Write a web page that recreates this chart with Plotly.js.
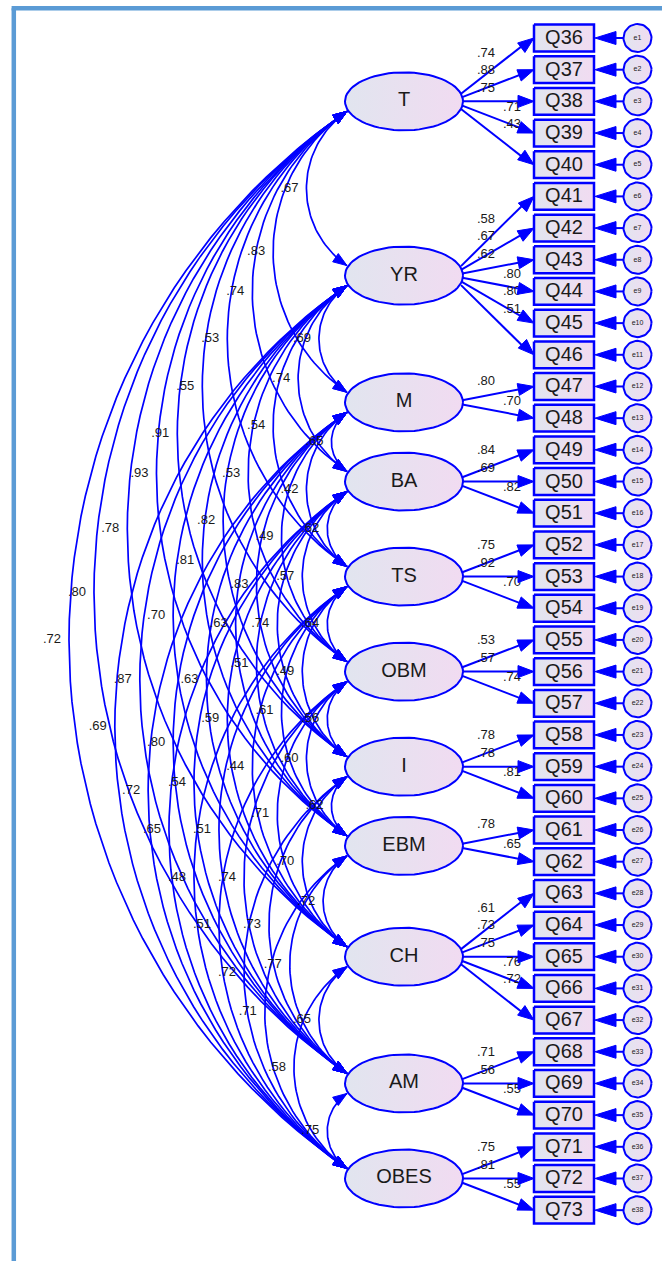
<!DOCTYPE html>
<html><head><meta charset="utf-8">
<script src="https://cdn.plot.ly/plotly-3.0.1.min.js"></script>
<style>html,body{margin:0;padding:0;background:#fff;overflow:hidden}</style>
</head><body><div id="chart" style="width:662px;height:1261px"></div>
<script>
// ---------------- DATA ----------------
const factors = ['T','YR','M','BA','TS','OBM','I','EBM','CH','AM','OBES'];
const itemCounts = [5,6,2,3,3,3,3,2,5,3,3];
const firstItemNumber = 36;
// standardized loadings per factor
const loadT    = ['.74','.88','.75','.71','.43'];
const loadYR   = ['.58','.67','.62','.80','.80','.51'];
const loadM    = ['.80','.70'];
const loadBA   = ['.84','.69','.82'];
const loadTS   = ['.75','.92','.70'];
const loadOBM  = ['.53','.57','.74'];
const loadI    = ['.78','.78','.81'];
const loadEBM  = ['.78','.65'];
const loadCH   = ['.61','.73','.75','.76','.72'];
const loadAM   = ['.71','.56','.55'];
const loadOBES = ['.75','.81','.55'];
// correlations of each factor with the factors listed below it
const corrT   = ['.67','.83','.74','.53','.55','.91','.93','.78','.80','.72'];
const corrYR  = ['.69','.74','.54','.53','.82','.81','.70','.87','.69'];
const corrM   = ['.65','.42','.49','.83','.63','.63','.80','.72'];
const corrBA  = ['.62','.57','.74','.51','.59','.54','.65'];
const corrTS  = ['.64','.49','.61','.44','.51','.48'];
const corrOBM = ['.56','.60','.71','.74','.51'];
const corrI   = ['.62','.70','.73','.72'];
const corrEBM = ['.72','.77','.71'];
const corrCH  = ['.65','.58'];
const corrAM  = ['.75'];

const loadings = [loadT,loadYR,loadM,loadBA,loadTS,loadOBM,loadI,loadEBM,loadCH,loadAM,loadOBES];
const corrs = [corrT,corrYR,corrM,corrBA,corrTS,corrOBM,corrI,corrEBM,corrCH,corrAM];

// ---------------- GEOMETRY ----------------
const Y0 = 38, STEP = 31.68;
const FX = 404, RX = 59, RY = 29;
const BX0 = 534, BX1 = 594, BH = 13.4;
const CX = 637.5, CR = 14;
const ATT_X = 347, ATT_DY = 10, SAG = 0.263;
const BLUE = '#0000ff', TXT = '#1a1a1a';
const FONT = 'Arial, "Liberation Sans", sans-serif';
const grad = {type:'horizontal', colorscale:[[0,'#e1e5ef'],[1,'#f1dbf1']]};

const items = []; const fy = [];
let k = 0;
factors.forEach((f,i)=>{
  const ys=[];
  for(let j=0;j<itemCounts[i];j++){
    const y = Y0 + k*STEP;
    items.push({name:'Q'+(firstItemNumber+k), y, f:i, j, err:'e'+(k+1)});
    ys.push(y); k++;
  }
  fy.push(ys.reduce((a,b)=>a+b,0)/ys.length);
});

function tri(arr, tx, ty, dx, dy, L, w){
  const n = Math.hypot(dx,dy); dx/=n; dy/=n;
  const bx = tx - dx*L, by = ty - dy*L;
  arr.x.push(tx, bx - dy*w, bx + dy*w, tx, null);
  arr.y.push(ty, by + dx*w, by - dx*w, ty, null);
}

const data = [];
// frame
data.push({x:[13.8,13.8,null,11.6,662],y:[1261,8.3,null,8.3,8.3],mode:'lines',
  line:{color:'#5b9bd5',width:4.5},hoverinfo:'skip'});

// covariance arcs
const arcs = {x:[],y:[]}, arcHeads = {x:[],y:[]}, cl = {x:[],y:[],t:[]};
for(let i=0;i<factors.length;i++){
  for(let j=i+1;j<factors.length;j++){
    const y0 = fy[i]+ATT_DY, y1 = fy[j]-ATT_DY;
    const c = y1-y0, s = SAG*c, R = (c*c/4 + s*s)/(2*s);
    const cx = ATT_X - s + R, cy = (y0+y1)/2, p0 = Math.asin((c/2)/R);
    const N = 60;
    for(let q=0;q<=N;q++){
      const t = -p0 + 2*p0*q/N;
      arcs.x.push(cx - R*Math.cos(t)); arcs.y.push(cy + R*Math.sin(t));
    }
    arcs.x.push(null); arcs.y.push(null);
    tri(arcHeads, ATT_X, y0, Math.sin(p0), -Math.cos(p0), 14, 5);
    tri(arcHeads, ATT_X, y1, Math.sin(p0), Math.cos(p0), 14, 5);
    cl.x.push(ATT_X - s - 17); cl.y.push(cy); cl.t.push(corrs[i][j-i-1]);
  }
}
data.push({x:arcs.x,y:arcs.y,mode:'lines',line:{color:BLUE,width:1.7},hoverinfo:'skip'});
data.push({x:cl.x,y:cl.y,text:cl.t,mode:'text',textposition:'middle center',
  textfont:{family:FONT,size:13,color:TXT},hoverinfo:'skip'});
data.push({x:arcHeads.x,y:arcHeads.y,mode:'lines',fill:'toself',fillcolor:BLUE,
  line:{color:BLUE,width:1},hoverinfo:'skip'});

// loading arrows
const la = {x:[],y:[]}, lh = {x:[],y:[]}, ll = {x:[],y:[],t:[]};
items.forEach(it=>{
  const sy = fy[it.f] + (it.y - fy[it.f])*0.12, sx = 461;
  la.x.push(sx, BX0-8, null);
  const dx = BX0 - sx, dy = it.y - sy, n = Math.hypot(dx,dy);
  la.y.push(sy, it.y - dy/n*8, null);
  tri(lh, BX0, it.y, dx, dy, 16, 6);
  const n_ = itemCounts[it.f], L = Math.ceil(n_/2), odd = n_%2===1;
  let lx, ly;
  if(it.j < L){ lx = 486; ly = fy[it.f] + (odd?-13:-21) - (L-1-it.j)*17.5; }
  else { lx = 512; ly = fy[it.f] + (odd?6:-1) + (it.j-L)*17.5; }
  ll.x.push(lx); ll.y.push(ly); ll.t.push(loadings[it.f][it.j]);
});
data.push({x:la.x,y:la.y,mode:'lines',line:{color:BLUE,width:2},hoverinfo:'skip'});
data.push({x:ll.x,y:ll.y,text:ll.t,mode:'text',textposition:'middle center',
  textfont:{family:FONT,size:13,color:TXT},hoverinfo:'skip'});
data.push({x:lh.x,y:lh.y,mode:'lines',fill:'toself',fillcolor:BLUE,
  line:{color:BLUE,width:1},hoverinfo:'skip'});

// error arrows
const ea = {x:[],y:[]}, eh = {x:[],y:[]};
items.forEach(it=>{
  ea.x.push(CX-CR, BX1+10, null); ea.y.push(it.y, it.y, null);
  tri(eh, BX1+1, it.y, -1, 0, 21, 6.5);
});
data.push({x:ea.x,y:ea.y,mode:'lines',line:{color:BLUE,width:2},hoverinfo:'skip'});
data.push({x:eh.x,y:eh.y,mode:'lines',fill:'toself',fillcolor:BLUE,
  line:{color:BLUE,width:1},hoverinfo:'skip'});

// ellipses
fy.forEach(y=>{
  const xs=[],ys=[];
  for(let q=0;q<=72;q++){const a=q/72*2*Math.PI; xs.push(FX+RX*Math.cos(a)); ys.push(y+RY*Math.sin(a));}
  data.push({x:xs,y:ys,mode:'lines',fill:'toself',fillgradient:grad,
    line:{color:BLUE,width:2},hoverinfo:'skip'});
});
data.push({x:fy.map(()=>FX),y:fy,text:factors,mode:'text',textposition:'middle center',
  textfont:{family:FONT,size:20,color:TXT},hoverinfo:'skip'});

// boxes
items.forEach(it=>{
  data.push({x:[BX0,BX1,BX1,BX0,BX0],y:[it.y-BH,it.y-BH,it.y+BH,it.y+BH,it.y-BH],
    mode:'lines',fill:'toself',fillgradient:grad,line:{color:BLUE,width:2.5},hoverinfo:'skip'});
});
data.push({x:items.map(()=>(BX0+BX1)/2),y:items.map(it=>it.y+1),text:items.map(it=>it.name),
  mode:'text',textposition:'middle center',textfont:{family:FONT,size:20,color:TXT},hoverinfo:'skip'});

// error circles
items.forEach(it=>{
  const xs=[],ys=[];
  for(let q=0;q<=48;q++){const a=q/48*2*Math.PI; xs.push(CX+CR*Math.cos(a)); ys.push(it.y+CR*Math.sin(a));}
  data.push({x:xs,y:ys,mode:'lines',fill:'toself',fillgradient:grad,
    line:{color:BLUE,width:2},hoverinfo:'skip'});
});
data.push({x:items.map(()=>CX),y:items.map(it=>it.y),text:items.map(it=>it.err),
  mode:'text',textposition:'middle center',textfont:{family:FONT,size:7,color:TXT},hoverinfo:'skip'});

const layout = {
  width:662, height:1261, margin:{l:0,r:0,t:0,b:0,pad:0},
  paper_bgcolor:'#ffffff', plot_bgcolor:'#ffffff', showlegend:false,
  xaxis:{range:[0,662],visible:false,fixedrange:true},
  yaxis:{range:[1261,0],visible:false,fixedrange:true},
  hovermode:false
};
Plotly.newPlot('chart', data, layout, {staticPlot:true, displayModeBar:false});
</script>
</body></html>
